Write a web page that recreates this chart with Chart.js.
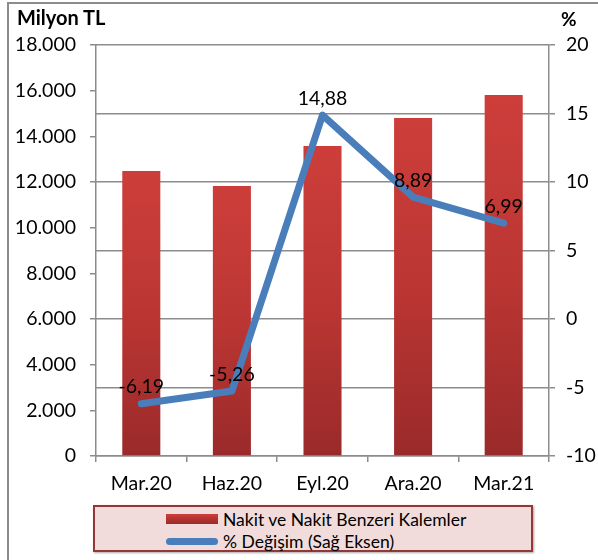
<!DOCTYPE html>
<html lang="tr">
<head>
<meta charset="utf-8">
<title>Nakit ve Nakit Benzeri Kalemler</title>
<script src="https://cdn.jsdelivr.net/npm/chart.js@4"></script>
<style>
	html, body { margin: 0; padding: 0; background: #fff; }
	body { width: 598px; height: 560px; position: relative; overflow: hidden; font-family: Lato, "Noto Sans", sans-serif; }
	#frame { position: absolute; left: 7px; top: 2px; width: 600px; height: 600px; border-left: 2px solid #8c8c8c; border-top: 2px solid #8c8c8c; box-sizing: border-box; }
	#chartBox { position: absolute; left: 0; top: 0; width: 598px; height: 500px; }
	.axisTitle { position: absolute; font-size: 20px; font-weight: bold; color: #000; }
	#leftTitle { left: 17px; top: 5px; }
	#rightTitle { left: 561px; top: 7px; font-size: 19px; }
	#legend { position: absolute; left: 93px; top: 505px; width: 440px; height: 47px; box-sizing: border-box; background: #f2dcdb; border: 2px solid #953735; box-shadow: 1px 1px 2px rgba(0,0,0,0.35); }
	.legendItem { position: absolute; left: 71px; height: 22px; display: flex; align-items: center; font-size: 17.5px; color: #000; }
	.legendItem .swatch { width: 52px; margin-right: 5px; }
</style>
</head>
<body>
<div id="frame"></div>
<div id="chartBox"><canvas id="cashChart" width="598" height="500"></canvas></div>
<div class="axisTitle" id="leftTitle">Milyon TL</div>
<div class="axisTitle" id="rightTitle">%</div>
<div id="legend"></div>

<script>
// chart values
const categories = ["Mar.20", "Haz.20", "Eyl.20", "Ara.20", "Mar.21"];
const cashValues = [12480, 11830, 13580, 14800, 15810];
const changeValues = [-6.19, -5.26, 14.88, 8.89, 6.99];
const leftTicks = [0, 2000, 4000, 6000, 8000, 10000, 12000, 14000, 16000, 18000];
const rightTicks = [-10, -5, 0, 5, 10, 15, 20];
const seriesNames = ["Nakit ve Nakit Benzeri Kalemler", "% Değişim (Sağ Eksen)"];

const gridColor = "#8c8c8c";
const tickFont = { family: "Lato", size: 19.5 };

document.addEventListener("DOMContentLoaded", function () {
	const canvas = document.getElementById("cashChart");
	const ctx = canvas.getContext("2d");

	// each bar gets its own top-to-bottom red gradient
	function barFill(context) {
		const chart = context.chart;
		const area = chart.chartArea;
		if (!area || context.type !== "data") return "#c0392f";
		const yScale = chart.scales.y;
		const top = yScale.getPixelForValue(context.raw);
		const bottom = yScale.getPixelForValue(0);
		const grad = chart.ctx.createLinearGradient(0, top, 0, bottom);
		grad.addColorStop(0, "#cd3e3a");
		grad.addColorStop(0.5, "#bb3633");
		grad.addColorStop(1, "#9a2a2a");
		return grad;
	}

	// value labels above the line points
	const pointLabels = {
		id: "pointLabels",
		afterDatasetsDraw(chart) {
			const meta = chart.getDatasetMeta(1);
			const c = chart.ctx;
			c.save();
			c.font = "19.5px Lato";
			c.fillStyle = "#000";
			c.textAlign = "center";
			c.textBaseline = "bottom";
			meta.data.forEach((pt, i) => {
				const txt = changeValues[i].toFixed(2).replace(".", ",");
				c.fillText(txt, pt.x, pt.y - 7);
			});
			c.restore();
		},
	};

	const chart = new Chart(ctx, {
		data: {
			labels: categories,
			datasets: [
				{
					type: "bar",
					label: seriesNames[0],
					data: cashValues,
					yAxisID: "y",
					backgroundColor: barFill,
					barPercentage: 0.42,
					categoryPercentage: 1,
					order: 2,
				},
				{
					type: "line",
					label: seriesNames[1],
					data: changeValues,
					yAxisID: "y1",
					borderColor: "#4a7ebb",
					backgroundColor: "#4a7ebb",
					borderWidth: 7,
					borderCapStyle: "round",
					borderJoinStyle: "round",
					pointRadius: 0,
					tension: 0,
					order: 1,
				},
			],
		},
		options: {
			responsive: false,
			animation: false,
			layout: { padding: { top: 34, left: 0, right: 0, bottom: 0 } },
			plugins: {
				legend: { display: false },
				tooltip: { enabled: false },
			},
			scales: {
				x: {
					offset: true,
					grid: {
						offset: true,
						drawOnChartArea: false,
						color: gridColor,
						lineWidth: 1.5,
						tickLength: 6,
					},
					border: { color: gridColor, width: 1.5 },
					ticks: { font: tickFont, color: "#000", padding: 10 },
					afterFit(scale) { scale.height = 44; },
				},
				y: {
					position: "left",
					min: 0,
					max: 18000,
					afterBuildTicks(scale) { scale.ticks = leftTicks.map((v) => ({ value: v })); },
					grid: { drawOnChartArea: false, color: gridColor, lineWidth: 1.5, tickLength: 6 },
					border: { color: gridColor, width: 1.5 },
					ticks: {
						font: tickFont,
						color: "#000",
						padding: 14,
						callback: (v) => (v === 0 ? "0" : v.toLocaleString("de-DE")),
					},
					afterFit(scale) { scale.width = 96; },
				},
				y1: {
					position: "right",
					min: -10,
					max: 20,
					afterBuildTicks(scale) { scale.ticks = rightTicks.map((v) => ({ value: v })); },
					grid: { drawOnChartArea: true, color: gridColor, lineWidth: 1.5, tickLength: 6 },
					border: { color: gridColor, width: 1.5 },
					ticks: { font: tickFont, color: "#000", padding: 11 },
					afterFit(scale) { scale.width = 49; },
				},
			},
		},
		plugins: [pointLabels],
	});

	// top of the plot area sits at the 20 / 18.000 line of the reference
	chart.options.layout.padding.top = 34 + (45 - chart.chartArea.top);
	chart.update();

	// custom legend in the pink box
	const legend = document.getElementById("legend");
	chart.data.datasets.forEach((ds, i) => {
		const item = document.createElement("div");
		item.className = "legendItem";
		item.style.top = i === 0 ? "1px" : "23px";
		const sw = document.createElement("span");
		sw.className = "swatch";
		if (ds.type === "bar") {
			sw.style.height = "10px";
			sw.style.background = "linear-gradient(#cd3e3a, #9a2a2a)";
		} else {
			sw.style.height = "7px";
			sw.style.borderRadius = "4px";
			sw.style.background = ds.borderColor;
		}
		const label = document.createElement("span");
		label.textContent = ds.label;
		item.appendChild(sw);
		item.appendChild(label);
		legend.appendChild(item);
	});
});
</script>
</body>
</html>
